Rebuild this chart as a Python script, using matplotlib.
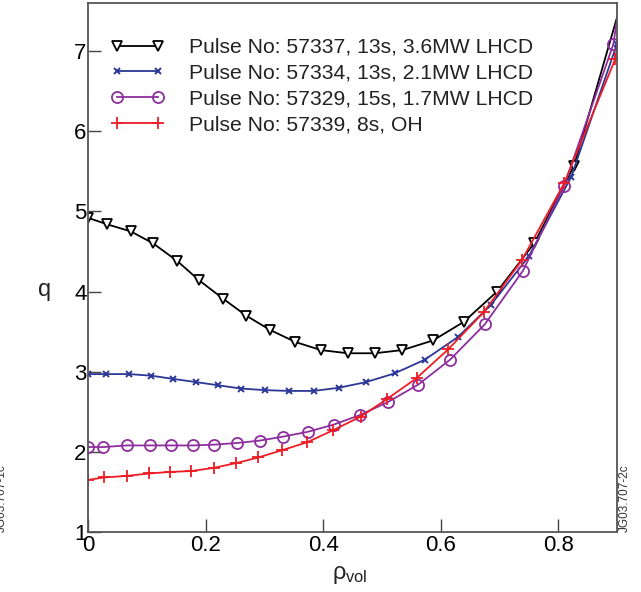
import matplotlib
matplotlib.use("Agg")
import matplotlib.pyplot as plt
from matplotlib.legend_handler import HandlerLine2D

plt.rcParams["font.family"] = ["Liberation Sans", "DejaVu Sans"]
plt.rcParams["mathtext.fontset"] = "custom"
plt.rcParams["mathtext.rm"] = "Liberation Sans"
plt.rcParams["mathtext.it"] = "Liberation Sans"

# q profiles vs normalised volume radius
rho_lhcd36 = [0.0, 0.032, 0.073, 0.111, 0.152, 0.189, 0.230, 0.269, 0.310, 0.353,
              0.396, 0.442, 0.488, 0.535, 0.587, 0.639, 0.696, 0.759, 0.827, 0.90]
q_lhcd36 = [4.92, 4.84, 4.75, 4.60, 4.38, 4.14, 3.91, 3.70, 3.52, 3.37,
            3.27, 3.23, 3.23, 3.27, 3.39, 3.62, 4.00, 4.60, 5.57, 7.42]

rho_lhcd21 = [0.0, 0.030, 0.070, 0.108, 0.145, 0.184, 0.222, 0.260, 0.301, 0.342,
              0.384, 0.427, 0.473, 0.522, 0.573, 0.629, 0.685, 0.750, 0.822, 0.90]
q_lhcd21 = [2.97, 2.97, 2.97, 2.95, 2.91, 2.87, 2.83, 2.79, 2.77, 2.76,
            2.76, 2.80, 2.87, 2.98, 3.15, 3.43, 3.83, 4.44, 5.43, 7.09]

rho_lhcd17 = [0.0, 0.026, 0.066, 0.105, 0.141, 0.178, 0.215, 0.253, 0.292, 0.332,
              0.374, 0.418, 0.463, 0.510, 0.562, 0.616, 0.675, 0.740, 0.810, 0.894]
q_lhcd17 = [2.06, 2.06, 2.08, 2.08, 2.08, 2.08, 2.09, 2.11, 2.14, 2.19,
            2.25, 2.34, 2.46, 2.62, 2.84, 3.15, 3.59, 4.26, 5.32, 7.09]

rho_oh = [0.0, 0.027, 0.066, 0.104, 0.140, 0.175, 0.214, 0.252, 0.290, 0.330,
          0.373, 0.417, 0.464, 0.509, 0.559, 0.613, 0.673, 0.738, 0.810, 0.897]
q_oh = [1.65, 1.68, 1.70, 1.73, 1.75, 1.76, 1.80, 1.86, 1.93, 2.02,
        2.12, 2.27, 2.44, 2.66, 2.92, 3.28, 3.74, 4.39, 5.35, 6.90]

labels = ["Pulse No: 57337, 13s, 3.6MW LHCD",
          "Pulse No: 57334, 13s, 2.1MW LHCD",
          "Pulse No: 57329, 15s, 1.7MW LHCD",
          "Pulse No: 57339, 8s, OH"]

fig = plt.figure(figsize=(6.41, 5.92), dpi=100)
ax = fig.add_axes([88 / 641, 60 / 592, 529 / 641, 529 / 592])

ax.plot(rho_lhcd36, q_lhcd36, color="black", lw=1.3, marker="v", ms=7.5,
        mfc="white", mec="black", mew=1.3, markevery=list(range(19)), label=labels[0])
ax.plot(rho_lhcd21, q_lhcd21, color="#2b3896", lw=1.3, marker="x", ms=5,
        mew=1.4, label=labels[1])
ax.plot(rho_lhcd17, q_lhcd17, color="#8e2e9e", lw=1.3, marker="o", ms=8,
        mfc="none", mew=1.3, label=labels[2])
ax.plot([rho_lhcd17[-1], 0.90], [q_lhcd17[-1], 7.40], color="#8e2e9e", lw=1.3)
ax.plot(rho_oh, q_oh, color="#ee1c24", lw=1.3, marker="+", ms=9,
        mew=1.3, label=labels[3])
ax.plot([rho_oh[-1], 0.90], [q_oh[-1], 7.05], color="#ee1c24", lw=1.3)

ax.set_xlim(0, 0.9)
ax.set_ylim(1, 7.6)
ax.set_xticks([0, 0.2, 0.4, 0.6, 0.8])
ax.set_xticklabels(["0", "0.2", "0.4", "0.6", "0.8"])
ax.set_yticks([1, 2, 3, 4, 5, 6, 7])
ax.tick_params(direction="in", length=9.5, width=1.0, color="#444444",
               labelsize=16, pad=2)
ax.tick_params(axis="y", pad=1)
for s in ax.spines.values():
    s.set_color("#555555")
    s.set_linewidth(1.3)

handles, _ = ax.get_legend_handles_labels()
leg = ax.legend(handles, labels, loc="upper left", bbox_to_anchor=(0.039, 0.95),
                frameon=False, fontsize=15.2, handlelength=1.94,
                handletextpad=1.47, labelspacing=0.32, borderaxespad=0,
                handler_map={h: HandlerLine2D(marker_pad=0, numpoints=2)
                             for h in handles})
for t in leg.get_texts():
    t.set_color("#222222")

fig.text(45 / 641, 1 - 290 / 592, "q", fontsize=17, ha="center", va="center",
         color="#222222")
fig.text(350 / 641, 1 - 575 / 592, r"$\rho_{\rm vol}$", fontsize=17,
         ha="center", va="center", color="#222222")

fig.text(625 / 641, 1 - 498 / 592, "JG03.707-2c", fontsize=8.5, rotation=90,
         ha="center", va="center", color="#333333")
fig.text(2 / 641, 1 - 498 / 592, "JG03.707-1c", fontsize=8.5, rotation=90,
         ha="center", va="center", color="#333333")

fig.savefig("out.png", dpi=100)
